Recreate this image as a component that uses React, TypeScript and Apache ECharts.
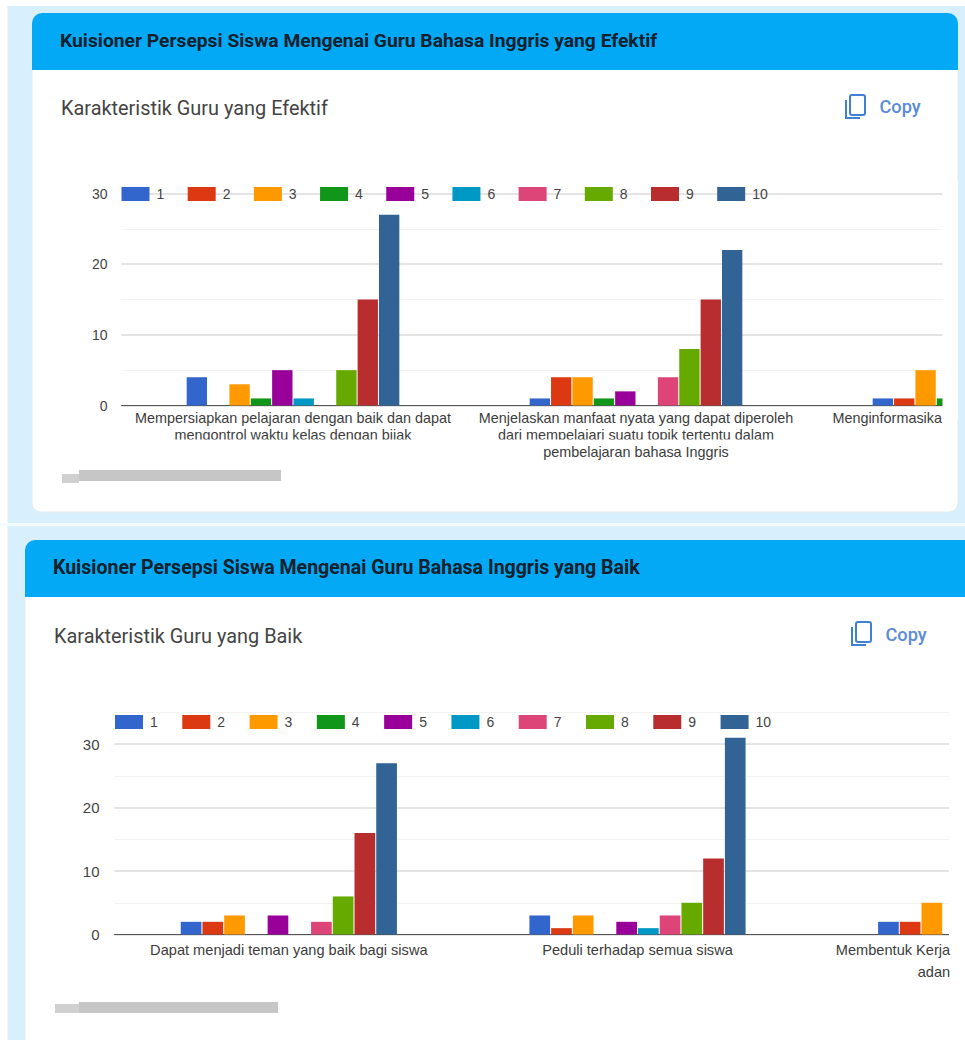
import React, { useEffect, useRef } from "react";
import * as echarts from "echarts";

const seriesNames = ["1", "2", "3", "4", "5", "6", "7", "8", "9", "10"];
const palette = ["#3366cc", "#dc3912", "#ff9900", "#109618", "#990099", "#0099c6", "#dd4477", "#66aa00", "#b82e2e", "#316395"];

const efektifCategories = [
  "Mempersiapkan pelajaran dengan baik dan dapat\nmengontrol waktu kelas dengan bijak",
  "Menjelaskan manfaat nyata yang dapat diperoleh\ndari mempelajari suatu topik tertentu dalam\npembelajaran bahasa Inggris",
  "Menginformasika",
];
const baikCategories = [
  "Dapat menjadi teman yang baik bagi siswa",
  "Peduli terhadap semua siswa",
  "Membentuk Kerja\nadan",
];

// one row per series (1..10), one column per category
const efektifValues = [
  [4, 1, 1],
  [0, 4, 1],
  [3, 4, 5],
  [1, 1, 1],
  [5, 2, null],
  [1, 0, null],
  [0, 4, null],
  [5, 8, null],
  [15, 15, null],
  [27, 22, null],
];
const baikValues = [
  [2, 3, 2],
  [2, 1, 2],
  [3, 3, 5],
  [0, 0, null],
  [3, 2, null],
  [0, 1, null],
  [2, 3, null],
  [6, 5, null],
  [16, 12, null],
  [27, 31, null],
];

const FONT = "Liberation Sans";
const UI = "Roboto";
const BG = "#d8effd";
const HEAD = "#03a9f4";

function copyIcon(x: number, y: number) {
  const c = "#3f7fd6";
  return [
    { type: "rect", z: 1, shape: { x: x + 5, y, width: 15, height: 20, r: 2 }, style: { fill: "none", stroke: c, lineWidth: 2 } },
    { type: "polyline", z: 1, shape: { points: [[x + 1, y + 5], [x + 1, y + 23], [x + 15, y + 23]] }, style: { fill: "none", stroke: c, lineWidth: 2 } },
  ];
}

function card(o: { x: number; w: number; top: number; headBottom: number; bottom: number; title: string; titleX: number; titleSize: number; sub: string; subY: number; iconX: number; iconY: number }) {
  const titleY = (o.top + o.headBottom) / 2 - 1;
  return [
    { type: "rect", z: -9, shape: { x: o.x, y: o.top, width: o.w, height: o.bottom - o.top, r: 9 }, style: { fill: "#ffffff", stroke: "#e3ebf0", lineWidth: 1 } },
    { type: "rect", z: -8, shape: { x: o.x, y: o.top, width: o.w, height: o.headBottom - o.top, r: [10, 10, 0, 0] }, style: { fill: HEAD } },
    { type: "text", z: 1, x: o.titleX, y: titleY, style: { text: o.title, fill: "#10202c", font: `700 ${o.titleSize}px ${UI}`, textVerticalAlign: "middle" } },
    { type: "text", z: 1, x: o.titleX + 1, y: o.subY, style: { text: o.sub, fill: "#444444", font: `400 19.9px ${UI}`, textVerticalAlign: "middle" } },
    ...copyIcon(o.iconX, o.iconY),
    { type: "text", z: 1, x: o.iconX + 34.5, y: o.subY - 2, style: { text: "Copy", fill: "#5a8bd8", font: `500 18.2px ${UI}`, textVerticalAlign: "middle" } },
  ];
}

function band(x: number, y: number, w: number, h: number, fill: string, z = 100) {
  return { type: "rect", z, shape: { x, y, width: w, height: h }, style: { fill } };
}

const graphicElements = [
  band(7.5, 6, 958, 1040, BG, -10),
  band(0, 523, 965, 3, "#f4fbff", -10),
  ...card({ x: 32, w: 926, top: 13, headBottom: 70, bottom: 512, title: "Kuisioner Persepsi Siswa Mengenai Guru Bahasa Inggris yang Efektif", titleX: 60, titleSize: 19.26, sub: "Karakteristik Guru yang Efektif", subY: 108, iconX: 845, iconY: 95 }),
  ...card({ x: 25, w: 960, top: 540, headBottom: 597, bottom: 1070, title: "Kuisioner Persepsi Siswa Mengenai Guru Bahasa Inggris yang Baik", titleX: 53, titleSize: 19.53, sub: "Karakteristik Guru yang Baik", subY: 636, iconX: 851, iconY: 622 }),
  // right-hand cut of the scrolled plot areas
  band(942.5, 180, 15.5, 240, "#ffffff"),
  band(958, 180, 8, 240, BG),
  band(949, 700, 17, 240, "#ffffff"),
  // cut through the second label line of the upper chart
  band(121, 439.5, 700, 5, "#ffffff"),
  // scrollbars
  band(62, 474, 17, 9, "#d0d0d0", 2),
  band(79, 470, 202, 11, "#c6c6c6", 2),
  band(55, 1004, 24, 9, "#d0d0d0", 2),
  band(79, 1002, 199, 11, "#c6c6c6", 2),
];

function xAxis(gridIndex: number, cats: string[], fontSize: number, margin: number, lineHeight: number, lastPad: number) {
  return {
    type: "category",
    gridIndex,
    data: cats.map((c, i) => (i === 2 ? { value: c, textStyle: { align: "right", padding: [0, lastPad, 0, 0] } } : c)),
    axisTick: { show: false },
    axisLine: { lineStyle: { color: "#555555", width: 1 } },
    axisLabel: { interval: 0, fontFamily: FONT, fontSize, color: "#3c3c3c", margin, lineHeight },
    splitLine: { show: false },
  };
}

function yAxes(gridIndex: number, max: number, fontSize: number, margin: number) {
  return [
    {
      type: "value", gridIndex, position: "left", min: 0, max, interval: 5,
      axisLine: { show: false }, axisTick: { show: false }, axisLabel: { show: false },
      splitLine: { lineStyle: { color: "#f2f2f2", width: 1 } },
    },
    {
      type: "value", gridIndex, position: "left", min: 0, max, interval: 10,
      axisLine: { show: false }, axisTick: { show: false },
      axisLabel: { fontFamily: FONT, fontSize, color: "#444444", margin, showMaxLabel: max % 10 === 0 },
      splitLine: { showMaxLine: max % 10 === 0, lineStyle: { color: "#e4e4e4", width: 2 } },
    },
  ];
}

function barSeries(values: (number | null)[][], xAxisIndex: number, yAxisIndex: number) {
  return values.map((data, i) => ({
    name: seriesNames[i],
    type: "bar",
    xAxisIndex,
    yAxisIndex,
    data,
    barGap: "5%",
    barCategoryGap: "38%",
    itemStyle: { color: palette[i] },
  }));
}

function legend(left: number, top: number, itemGap: number) {
  return {
    data: seriesNames,
    left,
    top,
    padding: 0,
    icon: "rect",
    itemWidth: 28,
    itemHeight: 14,
    itemGap,
    itemStyle: { borderWidth: 0 },
    selectedMode: false,
    textStyle: { fontFamily: FONT, fontSize: 14, color: "#444444", padding: [0, 0, 0, 2] },
  };
}

export default function App() {
  const ref = useRef<HTMLDivElement>(null);
  useEffect(() => {
    document.body.style.margin = "0";
    const chart = echarts.init(ref.current!, null, { renderer: "svg" });
    chart.setOption({
      animation: false,
      backgroundColor: "#ffffff",
      color: palette,
      graphic: graphicElements,
      legend: [legend(121.5, 187, 23.4), legend(115, 715, 24.5)],
      grid: [
        { left: 121.5, top: 193.5, width: 1029, height: 212, containLabel: false, outerBoundsMode: "none" },
        { left: 114.5, top: 712.5, width: 1046, height: 222, containLabel: false, outerBoundsMode: "none" },
      ],
      xAxis: [xAxis(0, efektifCategories, 14.4, 4, 17, 37), xAxis(1, baikCategories, 14.6, 4.5, 22, 36)],
      yAxis: [...yAxes(0, 30, 14, 14), ...yAxes(1, 35, 15, 15)],
      series: [...barSeries(efektifValues, 0, 1), ...barSeries(baikValues, 1, 3)],
    });
    return () => chart.dispose();
  }, []);
  return <div ref={ref} style={{ position: "absolute", left: 0, top: 0, width: 965, height: 1040 }} />;
}
